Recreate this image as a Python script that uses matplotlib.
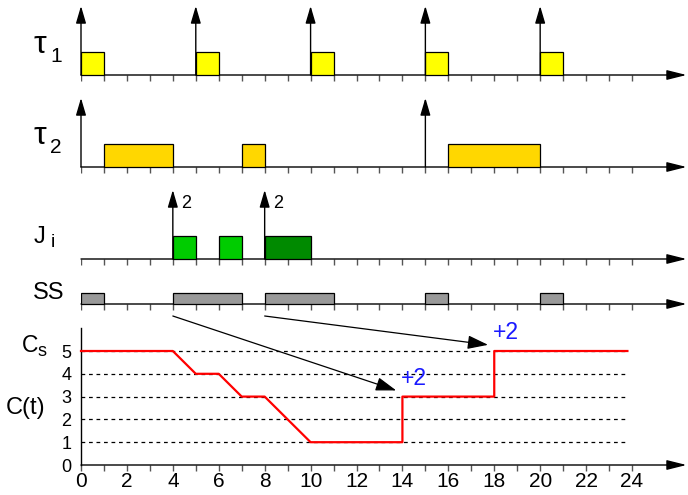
import matplotlib
matplotlib.use("Agg")
import matplotlib.pyplot as plt

plt.rcParams["font.family"] = ["Liberation Sans", "DejaVu Sans"]

# ---- schedule data -------------------------------------------------------
ticks_all = list(range(0, 25))

t1_release = [0, 5, 10, 15, 20]
t1_start = [0, 5, 10, 15, 20]
t1_end = [1, 6, 11, 16, 21]

t2_release = [0, 15]
t2_start = [1, 7, 16]
t2_end = [4, 8, 20]

ji_arrival = [4, 8]
ji_cost = ["2", "2"]
ji_start = [4, 6, 8]
ji_end = [5, 7, 10]
ji_color = ["#00cc00", "#00cc00", "#008a00"]

ss_start = [0, 4, 8, 15, 20]
ss_end = [1, 7, 11, 16, 21]

budget_t = [0, 4, 5, 6, 7, 8, 10, 14, 14, 18, 18, 23.8]
budget_c = [5, 5, 4, 4, 3, 3, 1, 1, 3, 3, 5, 5]
budget_levels = [1, 2, 3, 4, 5]
c_ticks = [0, 1, 2, 3, 4, 5]
x_labels = [0, 2, 4, 6, 8, 10, 12, 14, 16, 18, 20, 22, 24]

repl_from = [4, 8]
repl_time = [14, 18]
repl_level = [3, 5]
repl_text = ["+2", "+2"]

# ---- layout ---------------------------------------------------------------
W, H = 688, 495
fig = plt.figure(figsize=(W / 100, H / 100), dpi=100)

X0 = 81.0
UX = (632.0 - X0) / 24.0
XMAX = (W - X0) / UX
XTIP = (686.5 - X0) / UX
UNIT = 23.0

AX_KW = dict(arrowstyle="-|>,head_length=0.8,head_width=0.2",
             mutation_scale=15, lw=1.0, color="black",
             shrinkA=0, shrinkB=0)


def fx(px):
    return px / W


def fy(py):
    return 1 - py / H


def panel(baseline):
    top, bottom = baseline - 80, baseline + 10
    ax = fig.add_axes([fx(X0), fy(bottom), (W - X0) / W, (bottom - top) / H])
    ax.set_xlim(0, XMAX)
    ax.set_ylim(-10 / UNIT, 80 / UNIT)
    ax.axis("off")
    ax.patch.set_alpha(0)
    # time axis with arrow and unit ticks
    ax.annotate("", xy=(XTIP, 0), xytext=(0, 0), arrowprops=AX_KW,
                annotation_clip=False)
    ax.vlines(ticks_all, -6 / UNIT, 0, color="#555555", lw=1.0)
    return ax


def releases(ax, times):
    for t in times:
        ax.annotate("", xy=(t, 3.0), xytext=(t, 0),
                    arrowprops=dict(arrowstyle="-|>,head_length=0.75,head_width=0.22",
                                    mutation_scale=14, lw=1.0, color="black",
                                    shrinkA=0, shrinkB=0),
                    annotation_clip=False)


def boxes(ax, starts, ends, color, height=1.0):
    widths = [e - s for s, e in zip(starts, ends)]
    ax.bar(starts, height, width=widths, align="edge", color=color,
           edgecolor="black", lw=0.9, zorder=3)


# tau 1
ax1 = panel(75)
boxes(ax1, t1_start, t1_end, "#ffff00")
releases(ax1, t1_release)

# tau 2
ax2 = panel(167)
boxes(ax2, t2_start, t2_end, "#ffd700")
releases(ax2, t2_release)

# aperiodic jobs
ax3 = panel(259)
boxes(ax3, ji_start, ji_end, ji_color)
releases(ax3, ji_arrival)
for t, c in zip(ji_arrival, ji_cost):
    ax3.text(t + 0.38, 2.2, c, fontsize=13, ha="left", va="baseline")

# sporadic server
ax4 = panel(304)
boxes(ax4, ss_start, ss_end, "#999999", height=0.48)

# ---- server capacity -----------------------------------------------------
CB, CU, CTOP = 465.0, 22.8, 328.0
axc = fig.add_axes([fx(X0), fy(CB), (W - X0) / W, (CB - CTOP) / H])
axc.set_xlim(0, XMAX)
axc.set_ylim(0, (CB - CTOP) / CU)
axc.patch.set_alpha(0)
for s in ("top", "right", "bottom"):
    axc.spines[s].set_visible(False)
axc.spines["left"].set_linewidth(1.0)

axc.set_xticks(x_labels)
axc.set_xticks(ticks_all, minor=True)
axc.set_xticklabels([str(v) for v in x_labels])
axc.tick_params(axis="x", which="both", direction="out", length=4.0,
                width=1.0, color="#555555", labelsize=15, pad=0.8)
axc.set_yticks(c_ticks)
axc.tick_params(axis="y", length=0, labelsize=13, pad=7)

axc.annotate("", xy=(XTIP, 0), xytext=(0, 0), arrowprops=AX_KW,
             annotation_clip=False)
axc.hlines(budget_levels, 0, 23.8, colors="black", lw=0.9,
           linestyles=(0, (3, 3)))
axc.plot(budget_t, budget_c, color="red", lw=1.6, clip_on=False, zorder=4)

SRC_Y = (CB - 316.0) / CU
for src, t, lvl, txt in zip(repl_from, repl_time, repl_level, repl_text):
    axc.annotate("", xy=(t - 0.27, lvl + 0.27), xytext=(src, SRC_Y),
                 arrowprops=dict(arrowstyle="-|>,head_length=0.9,head_width=0.3",
                                 mutation_scale=14, lw=0.9, color="black",
                                 shrinkA=0, shrinkB=0),
                 annotation_clip=False)
    axc.text(t - 0.05, lvl + 0.8, txt, fontsize=16.5, color="#1a1aff",
             ha="left", va="center")

# ---- row labels ----------------------------------------------------------
fig.text(fx(33), fy(53), "τ", fontsize=23, va="baseline")
fig.text(fx(50), fy(62), "1", fontsize=15, va="baseline")
fig.text(fx(33), fy(144), "τ", fontsize=23, va="baseline")
fig.text(fx(50), fy(153), "2", fontsize=15, va="baseline")
fig.text(fx(34), fy(243), "J", fontsize=17, va="baseline")
fig.text(fx(51), fy(247), "i", fontsize=14, va="baseline")
fig.text(fx(33), fy(299), "SS", fontsize=17, va="baseline")
fig.text(fx(22), fy(352), "C", fontsize=16.5, va="baseline")
fig.text(fx(38), fy(356), "s", fontsize=13, va="baseline")
fig.text(fx(6), fy(414), "C(t)", fontsize=17, va="baseline")

fig.savefig("out.png", dpi=100)
